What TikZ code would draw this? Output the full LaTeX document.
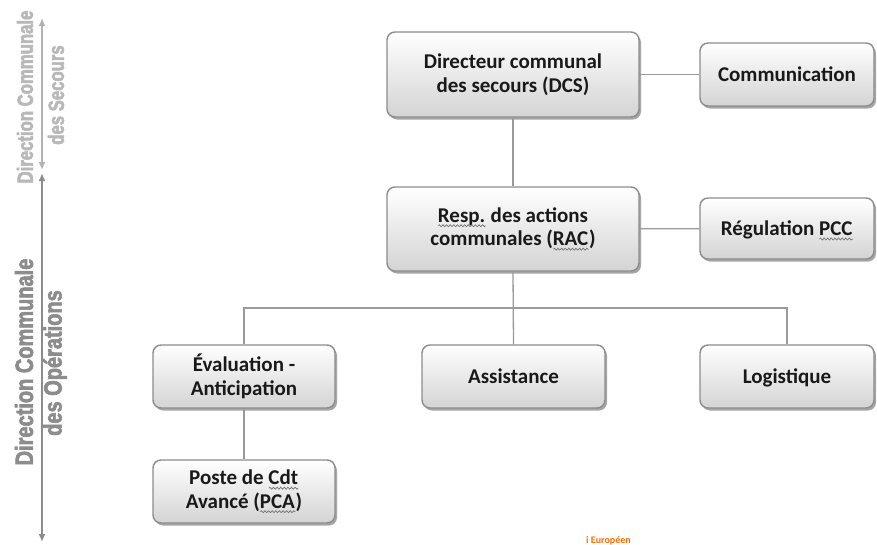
\documentclass[tikz,border=0pt]{standalone}
\usepackage{fontspec}
\setmainfont{Carlito}
\newfontfamily\condfontA[FakeStretch=0.8, FakeBold=2.5]{Liberation Sans Bold}
\newfontfamily\condfontB[FakeStretch=0.76, FakeBold=2.5]{Liberation Sans Bold}
\usetikzlibrary{shadows,arrows.meta,decorations.pathmorphing}
\newsavebox\sqbox
\newcommand\squig[1]{\sbox\sqbox{#1}\leavevmode\rlap{\usebox\sqbox}\raisebox{-3.5pt}{\tikz[x=1cm,y=1cm,baseline=0pt,sharp corners]\draw[sharp corners, line width=0.7pt, draw=black!55, decorate, decoration={snake,amplitude=1pt,segment length=3.6pt}] (0pt,0pt) -- (\wd\sqbox,0pt);}}
\definecolor{linegray}{HTML}{9A9A9A}
\definecolor{boxborder}{HTML}{8C8C8C}
\tikzset{
  orgbox/.style={draw=boxborder, line width=1.4pt, rounded corners=8pt,
    top color=white, bottom color=black!17, align=center,
    font=\fontsize{21}{23.5}\selectfont\bfseries, text=black!90,
    inner sep=0pt,
    drop shadow={shadow xshift=2pt, shadow yshift=-2.5pt, opacity=0.35, fill=black}},
  oneline/.style={text height=14pt, text depth=0pt},
  conn/.style={draw=linegray, line width=1.3pt},
  sidearrow/.style={line width=2.2pt, {Latex[length=8pt,width=7pt]}-{Latex[length=8pt,width=7pt]}},
  sidelabel/.style={rotate=90, inner sep=0pt}
}
\begin{document}
\begin{tikzpicture}[x=1pt,y=-1pt]
\useasboundingbox (0,0) rectangle (877,544);
\begin{scope}
\clip (0,0) rectangle (877,544);
% boxes
\node[orgbox, minimum width=252pt, minimum height=85pt] (dcs) at (513,74.5) {Directeur communal\\des secours (DCS)};
\node[orgbox, oneline, minimum width=174pt, minimum height=63pt] (comm) at (787,74.5) {Communication};
\node[orgbox, minimum width=252pt, minimum height=84pt] (rac) at (513,229) {\squig{Resp.} des actions\\communales (\squig{RAC})};
\node[orgbox, oneline, minimum width=174pt, minimum height=61pt] (reg) at (787,228.5) {Régulation \squig{PCC}};
\node[orgbox, minimum width=182pt, minimum height=63pt] (eval) at (244,376.5) {Évaluation -\\Anticipation};
\node[orgbox, oneline, minimum width=183pt, minimum height=63pt] (assist) at (513.5,376.5) {Assistance};
\node[orgbox, oneline, minimum width=174pt, minimum height=63pt] (logis) at (787,376.5) {Logistique};
\node[orgbox, minimum width=182pt, minimum height=63pt] (pca) at (244,491.5) {Poste de \squig{Cdt}\\Avancé (\squig{PCA})};
% connectors
\coordinate (bus) at (513,308);
\draw[conn] (dcs) -- (comm);
\draw[conn] (rac) -- (reg);
\draw[conn] (dcs) -- (rac);
\draw[conn] (rac.south) -- (assist.north);
\draw[conn] (eval.north) |- (bus) -| (logis.north);
\draw[conn] (eval) -- (pca);
% side labels
\coordinate (a1) at (42,18);
\coordinate (a2) at (42,170);
\coordinate (a3) at (42,173);
\coordinate (a4) at (42,542);
\draw[sidearrow, draw=black!30, fill=black!30] (a1) -- (a2);
\draw[sidearrow, draw=black!45, fill=black!45] (a3) -- (a4);
\node[sidelabel, text=black!28, font=\condfontB\fontsize{22}{22}\selectfont] (s1) at (25,97) {Direction Communale};
\node[sidelabel, text=black!28, font=\condfontB\fontsize{22}{22}\selectfont] (s2) at (56,95) {des Secours};
\node[sidelabel, text=black!45, font=\condfontA\fontsize{25}{25}\selectfont] (o1) at (24,362) {Direction Communale};
\node[sidelabel, text=black!45, font=\condfontA\fontsize{25}{25}\selectfont] (o2) at (55,363) {des Opérations};
% cropped footer text
\node[anchor=north west, inner sep=0pt, text=orange!85!red, font=\fontsize{10}{10}\selectfont\bfseries] (foot) at (586,536) {i Européen};
\end{scope}
\end{tikzpicture}
\end{document}
